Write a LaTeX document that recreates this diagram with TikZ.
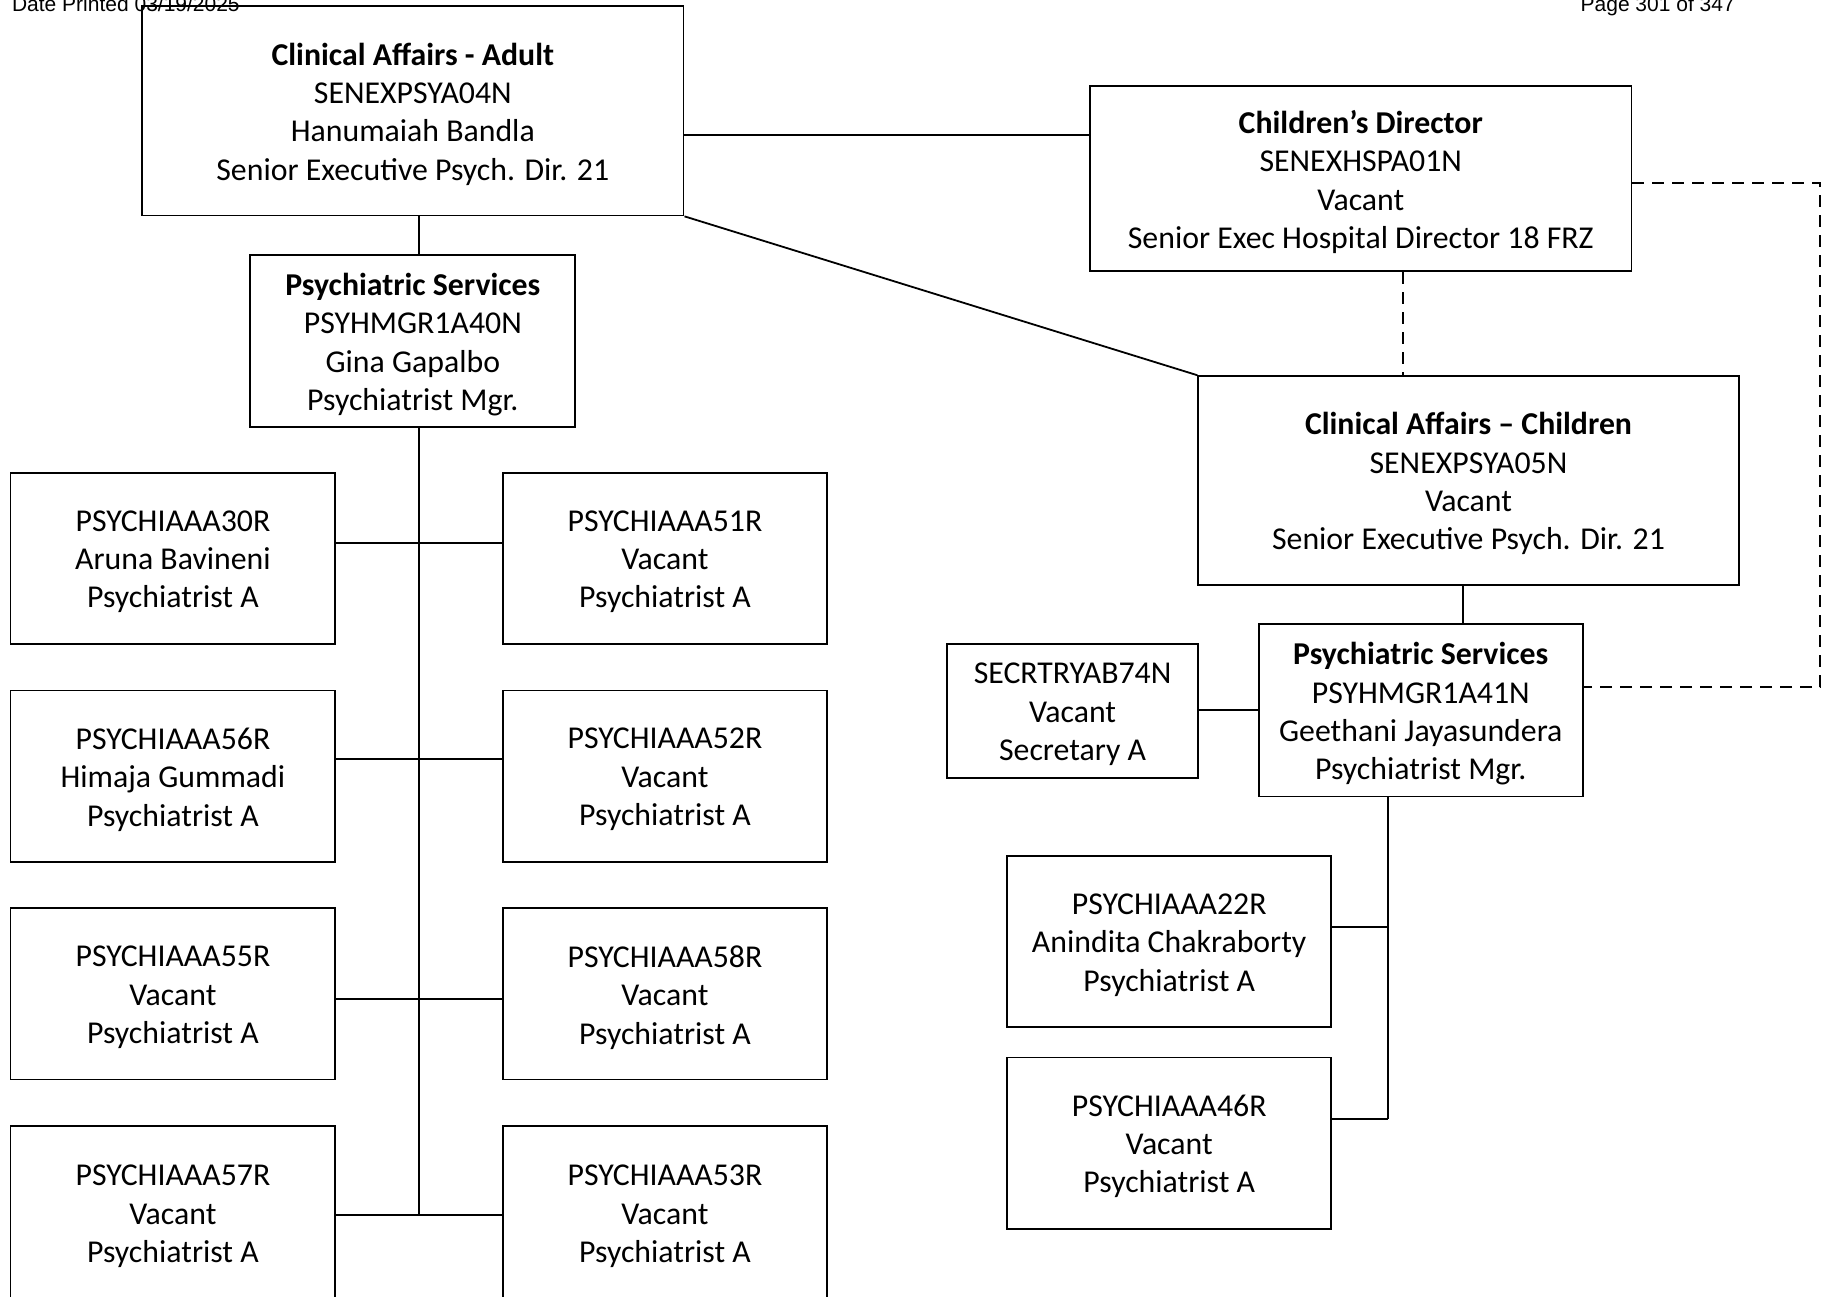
\documentclass[tikz,border=0pt]{standalone}
\usepackage{fontspec}
\setmainfont{Carlito}
\newfontfamily\hdrfont{Liberation Sans}
\usetikzlibrary{fit}
\begin{document}
\begin{tikzpicture}[x=0.58225pt,y=-0.58225pt,
  box/.style={draw, line width=0.9pt, inner sep=0pt},
  txt/.style={inner sep=0pt, align=center, font=\fontsize{15.9}{19.2}\selectfont, yshift=-1.7pt},
  conn/.style={line width=0.9pt},
  dconn/.style={line width=0.9pt, dash pattern=on 6pt off 4pt},
  hdr/.style={inner sep=0pt, font=\hdrfont\fontsize{10.5}{12}\selectfont}]
\useasboundingbox (0,0) rectangle (1568,1113);

\node[hdr, anchor=base west] (date) at (10,9.6) {Date Printed 03/19/2025};
\node[hdr, anchor=base east] (page) at (1490,9.6) {Page 301 of 347};

\node[box, fit={(122,5)(587,185)}] (A) {};
\node[txt] (At) at (A.center) {\textbf{Clinical Affairs - Adult}\\SENEXPSYA04N\\Hanumaiah Bandla\\Senior Executive Psych. Dir. 21};
\node[box, fit={(936,74)(1401,233)}] (CD) {};
\node[txt] (CDt) at (CD.center) {\textbf{Children’s Director}\\SENEXHSPA01N\\Vacant\\Senior Exec Hospital Director 18 FRZ};
\node[box, fit={(1029,323)(1493,502)}] (CC) {};
\node[txt] (CCt) at (CC.center) {\textbf{Clinical Affairs – Children}\\SENEXPSYA05N\\Vacant\\Senior Executive Psych. Dir. 21};
\node[box, fit={(215,219)(494,367)}] (PS1) {};
\node[txt] (PS1t) at (PS1.center) {\textbf{Psychiatric Services}\\PSYHMGR1A40N\\Gina Gapalbo\\Psychiatrist Mgr.};

\node[box, fit={(9,406)(288,553)}] (L1) {};
\node[txt] (L1t) at (L1.center) {PSYCHIAAA30R\\Aruna Bavineni\\Psychiatrist A};
\node[box, fit={(432,406)(710,553)}] (R1) {};
\node[txt] (R1t) at (R1.center) {PSYCHIAAA51R\\Vacant\\Psychiatrist A};
\node[box, fit={(9,593)(288,740)}] (L2) {};
\node[txt] (L2t) at (L2.center) {PSYCHIAAA56R\\Himaja Gummadi\\Psychiatrist A};
\node[box, fit={(432,593)(710,740)}] (R2) {};
\node[txt] (R2t) at (R2.center) {PSYCHIAAA52R\\Vacant\\Psychiatrist A};
\node[box, fit={(9,780)(288,927)}] (L3) {};
\node[txt] (L3t) at (L3.center) {PSYCHIAAA55R\\Vacant\\Psychiatrist A};
\node[box, fit={(432,780)(710,927)}] (R3) {};
\node[txt] (R3t) at (R3.center) {PSYCHIAAA58R\\Vacant\\Psychiatrist A};
\node[box, fit={(9,967)(288,1116)}] (L4) {};
\node[txt] (L4t) at (L4.center) {PSYCHIAAA57R\\Vacant\\Psychiatrist A};
\node[box, fit={(432,967)(710,1116)}] (R4) {};
\node[txt] (R4t) at (R4.center) {PSYCHIAAA53R\\Vacant\\Psychiatrist A};

\node[box, fit={(1081,536)(1359,684)}] (PS2) {};
\node[txt] (PS2t) at (PS2.center) {\textbf{Psychiatric Services}\\PSYHMGR1A41N\\Geethani Jayasundera\\Psychiatrist Mgr.};
\node[box, fit={(813,553)(1029,668)}] (S) {};
\node[txt] (St) at (S.center) {SECRTRYAB74N\\Vacant\\Secretary A};
\node[box, fit={(865,735)(1143,882)}] (P22) {};
\node[txt] (P22t) at (P22.center) {PSYCHIAAA22R\\Anindita Chakraborty\\Psychiatrist A};
\node[box, fit={(865,908)(1143,1055)}] (P46) {};
\node[txt] (P46t) at (P46.center) {PSYCHIAAA46R\\Vacant\\Psychiatrist A};

\coordinate (h1) at (0,116);
\coordinate (sx) at (360,0);
\coordinate (dx) at (1205,0);
\coordinate (c1) at (1563,157);
\coordinate (c2) at (1563,590);
\coordinate (r1) at (0,466);
\coordinate (r2) at (0,652);
\coordinate (r3) at (0,858);
\coordinate (r4) at (0,1043);
\coordinate (bot) at (360,1043);
\coordinate (cx) at (1256,0);
\coordinate (sy) at (0,610);
\coordinate (px) at (1192,0);
\coordinate (q1) at (0,796);
\coordinate (pbot) at (1192,961);

\draw[conn] (A.east |- h1) -- (CD.west |- h1);
\draw[conn] (A.south east) -- (CC.north west);
\draw[dconn] (CD.south -| dx) -- (CC.north -| dx);
\draw[dconn] (CD.east |- c1) -- (c1) -- (c2) -- (PS2.east |- c2);
\draw[conn] (A.south -| sx) -- (PS1.north -| sx);
\draw[conn] (PS1.south -| sx) -- (bot);
\draw[conn] (L1.east |- r1) -- (R1.west |- r1);
\draw[conn] (L2.east |- r2) -- (R2.west |- r2);
\draw[conn] (L3.east |- r3) -- (R3.west |- r3);
\draw[conn] (L4.east |- r4) -- (R4.west |- r4);
\draw[conn] (CC.south -| cx) -- (PS2.north -| cx);
\draw[conn] (S.east |- sy) -- (PS2.west |- sy);
\draw[conn] (PS2.south -| px) -- (pbot);
\draw[conn] (P22.east |- q1) -- (px |- q1);
\draw[conn] (P46.east |- pbot) -- (pbot);
\end{tikzpicture}
\end{document}
